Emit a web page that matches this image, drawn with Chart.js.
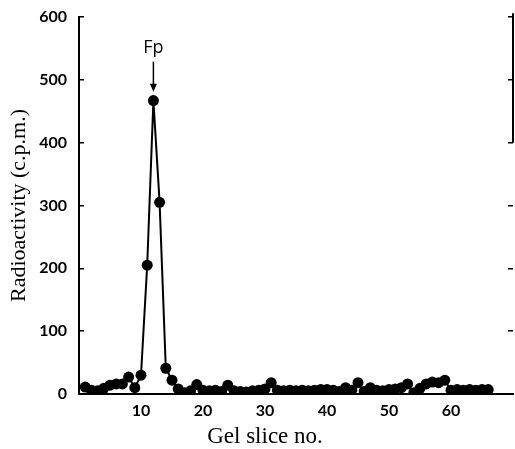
<!DOCTYPE html>
<html>
<head>
<meta charset="utf-8">
<script src="https://cdn.jsdelivr.net/npm/chart.js@4"></script>
<style>
html,body{margin:0;padding:0;background:#fff;}
#wrap{width:515px;height:449px;}
</style>
</head>
<body>
<div id="wrap"><canvas id="c" width="515" height="449"></canvas></div>
<script>
// Gel slice numbers and measured radioactivity (c.p.m.)
const slices = [1,2,3,4,5,6,7,8,9,10,11,12,13,14,15,16,17,18,19,20,
  21,22,23,24,25,26,27,28,29,30,31,32,33,34,35,36,37,38,39,40,
  41,42,43,44,45,46,47,48,49,50,51,52,53,54,55,56,57,58,59,60,
  61,62,63,64,65,66];
const counts = [11,6,5,9,14,16,16,27,10,30,205,467,305,41,22,8,2,5,15,6,
  5,6,4,14,5,4,3,5,6,8,18,6,5,6,5,6,5,6,7,7,
  6,4,10,6,18,4,10,6,5,7,8,10,16,2,9,16,19,18,22,6,
  7,6,7,6,7,7];
const xTickLabels = [10,20,30,40,50,60];
const yTickLabels = [0,100,200,300,400,500,600];
const peakLabel = "Fp";
const peakSlice = 12;
const xTitle = "Gel slice no.";
const yTitle = "Radioactivity (c.p.m.)";

const points = slices.map((s,i)=>({x:s,y:counts[i]}));

const annotate = {
  id:'annotate',
  afterDraw(chart){
    const ctx = chart.ctx;
    const xs = chart.scales.x, ys = chart.scales.y, yr = chart.scales.yr;
    ctx.save();
    // partial right border (neighbouring panel)
    ctx.strokeStyle = '#000';
    ctx.lineWidth = 2;
    ctx.beginPath();
    ctx.moveTo(yr.left, ys.getPixelForValue(606));
    ctx.lineTo(yr.left, ys.getPixelForValue(400));
    ctx.stroke();
    // peak label and arrow
    const px = xs.getPixelForValue(peakSlice);
    ctx.fillStyle = '#000';
    ctx.font = '18px "Open Sans", sans-serif';
    ctx.textAlign = 'center';
    ctx.textBaseline = 'middle';
    ctx.fillText(peakLabel, px, ys.getPixelForValue(551));
    const a0 = ys.getPixelForValue(529), a1 = ys.getPixelForValue(481);
    ctx.lineWidth = 1.5;
    ctx.beginPath();
    ctx.moveTo(px, a0);
    ctx.lineTo(px, a1 - 6);
    ctx.stroke();
    ctx.beginPath();
    ctx.moveTo(px - 3.5, a1 - 8);
    ctx.lineTo(px + 3.5, a1 - 8);
    ctx.lineTo(px, a1);
    ctx.closePath();
    ctx.fill();
    // x-axis title
    ctx.font = '23px "Liberation Serif", serif';
    ctx.textBaseline = 'middle';
    ctx.fillText(xTitle, xs.getPixelForValue(30), 437);
    ctx.restore();
  }
};

new Chart(document.getElementById('c'), {
  type: 'line',
  data: {
    datasets: [{
      data: points,
      borderColor: '#000',
      backgroundColor: '#000',
      borderWidth: 2,
      pointRadius: 5.5,
      pointHoverRadius: 5.5,
      pointBackgroundColor: '#000',
      pointBorderWidth: 0,
      tension: 0,
      fill: false
    }]
  },
  options: {
    responsive: false,
    animation: false,
    devicePixelRatio: 1,
    layout: { autoPadding: false, padding: { top: 17, left: 0, right: 0, bottom: 0 } },
    plugins: { legend: { display: false }, tooltip: { enabled: false } },
    scales: {
      x: {
        type: 'linear',
        min: 0, max: 70,
        afterFit: s => { s.height = 55; s.paddingLeft = 0; s.paddingRight = 0; },
        afterBuildTicks: s => { s.ticks = xTickLabels.map(v=>({value:v})); },
        grid: { display: false, drawTicks: false },
        border: { display: true, color: '#000', width: 2 },
        ticks: {
          color: '#000',
          padding: 7,
          font: { family: 'Lato', weight: 'bold', size: 16 }
        }
      },
      y: {
        type: 'linear',
        position: 'left',
        min: 0, max: 600,
        afterFit: s => { s.width = 79; s.paddingTop = 0; s.paddingBottom = 0; },
        afterBuildTicks: s => { s.ticks = yTickLabels.map(v=>({value:v})); },
        grid: { display: true, drawOnChartArea: false, drawTicks: true, tickLength: -5, color: '#000', lineWidth: 1.5 },
        border: { display: true, color: '#000', width: 2 },
        ticks: {
          color: '#000',
          padding: 17,
          font: { family: 'Lato', weight: 'bold', size: 16 }
        },
        title: {
          display: true,
          text: yTitle,
          color: '#000',
          padding: { top: 6, bottom: 0 },
          font: { family: 'Liberation Serif', size: 22 }
        }
      },
      yr: {
        type: 'linear',
        position: 'right',
        min: 0, max: 600,
        afterFit: s => { s.width = 2; s.paddingTop = 0; s.paddingBottom = 0; },
        afterBuildTicks: s => { s.ticks = yTickLabels.map(v=>({value:v})); },
        grid: { display: true, drawOnChartArea: false, drawTicks: true, tickLength: -5, color: '#000', lineWidth: 1.5 },
        border: { display: false },
        ticks: { display: false }
      }
    }
  },
  plugins: [annotate]
});
</script>
</body>
</html>
